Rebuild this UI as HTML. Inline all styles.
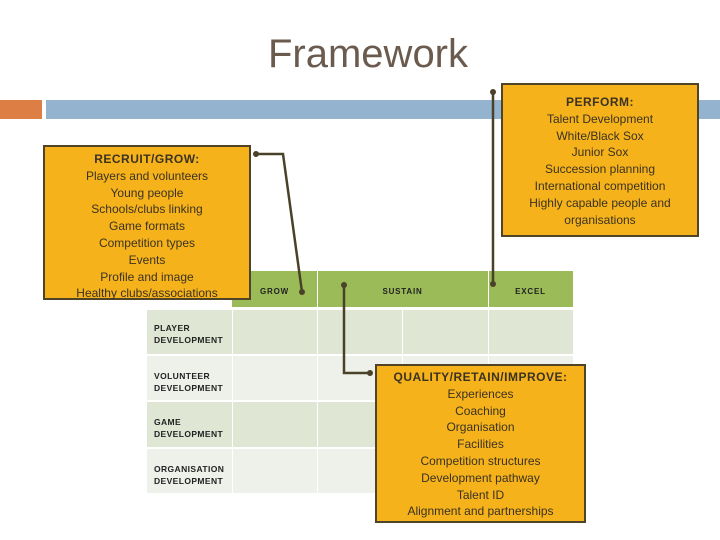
<!DOCTYPE html>
<html><head><style>
body{margin:0;width:720px;height:540px;background:#fff;position:relative;overflow:hidden;font-family:"Liberation Sans",sans-serif}
.a{position:absolute}
.box{position:absolute;background:#f5b21b;border:2px solid #4f4427;box-sizing:border-box;text-align:center;color:#3b3222;font-size:12px;line-height:16.8px}
.h{font-weight:bold;letter-spacing:0.5px}
.cell{position:absolute;box-sizing:border-box}
.lab{font-size:8.5px;font-weight:bold;color:#222;letter-spacing:0.4px;line-height:12px;padding-left:7px}
.hd{font-size:8px;font-weight:bold;color:#222;letter-spacing:0.8px;text-align:center;line-height:42px}
</style></head><body>
<div class="a" style="left:0;top:32px;width:736px;text-align:center;font-size:40px;color:#6b5a4e">Framework</div>
<div class="a" style="left:0;top:100px;width:42px;height:19px;background:#dd7f45"></div>
<div class="a" style="left:46px;top:100px;width:674px;height:19px;background:#94b3cf"></div>

<!-- table -->
<div class="cell" style="left:232px;top:271px;width:341px;height:36px;background:#9bbb59"></div>
<div class="cell" style="left:317px;top:271px;width:1px;height:36px;background:#fff"></div>
<div class="cell" style="left:488px;top:271px;width:1px;height:36px;background:#fff"></div>
<div class="cell hd" style="left:232px;top:271px;width:85px;height:36px;line-height:42px">GROW</div>
<div class="cell hd" style="left:317px;top:271px;width:171px;height:36px">SUSTAIN</div>
<div class="cell hd" style="left:488px;top:271px;width:85px;height:36px">EXCEL</div>

<div class="cell" style="left:147px;top:310px;width:426px;height:44px;background:#dfe7d4"></div>
<div class="cell" style="left:147px;top:356px;width:426px;height:44px;background:#eef1ea"></div>
<div class="cell" style="left:147px;top:402px;width:426px;height:45px;background:#dfe7d4"></div>
<div class="cell" style="left:147px;top:449px;width:426px;height:44px;background:#eef1ea"></div>
<div class="cell" style="left:232px;top:310px;width:1px;height:183px;background:#fff"></div>
<div class="cell" style="left:317px;top:310px;width:1px;height:183px;background:#fff"></div>
<div class="cell" style="left:402px;top:310px;width:1px;height:183px;background:#fff"></div>
<div class="cell" style="left:488px;top:310px;width:1px;height:183px;background:#fff"></div>
<div class="cell lab" style="left:147px;top:322px">PLAYER<br>DEVELOPMENT</div>
<div class="cell lab" style="left:147px;top:370px">VOLUNTEER<br>DEVELOPMENT</div>
<div class="cell lab" style="left:147px;top:416px">GAME<br>DEVELOPMENT</div>
<div class="cell lab" style="left:147px;top:463px">ORGANISATION<br>DEVELOPMENT</div>

<div class="box" style="left:43px;top:145px;width:208px;height:155px;padding-top:4px"><span class="h">RECRUIT/GROW:</span><br>Players and volunteers<br>Young people<br>Schools/clubs linking<br>Game formats<br>Competition types<br>Events<br>Profile and image<br>Healthy clubs/associations</div>
<div class="box" style="left:501px;top:83px;width:198px;height:154px;padding-top:9px"><span class="h">PERFORM:</span><br>Talent Development<br>White/Black Sox<br>Junior Sox<br>Succession planning<br>International competition<br>Highly capable people and<br>organisations</div>
<div class="box" style="left:375px;top:364px;width:211px;height:159px;padding-top:3px"><span class="h">QUALITY/RETAIN/IMPROVE:</span><br>Experiences<br>Coaching<br>Organisation<br>Facilities<br>Competition structures<br>Development pathway<br>Talent ID<br>Alignment and partnerships</div>

<svg class="a" style="left:0;top:0" width="720" height="540">
<g stroke="#4a4228" stroke-width="2.5" fill="none">
<polyline points="256,154 283,154 302,292"/>
<polyline points="493,92 493,284"/>
<polyline points="344,285 344,373 370,373"/>
</g>
<g fill="#4a4228">
<circle cx="256" cy="154" r="3"/><circle cx="302" cy="292" r="3"/>
<circle cx="493" cy="92" r="3"/><circle cx="493" cy="284" r="3"/>
<circle cx="344" cy="285" r="3"/><circle cx="370" cy="373" r="3"/>
</g>
</svg>
</body></html>
